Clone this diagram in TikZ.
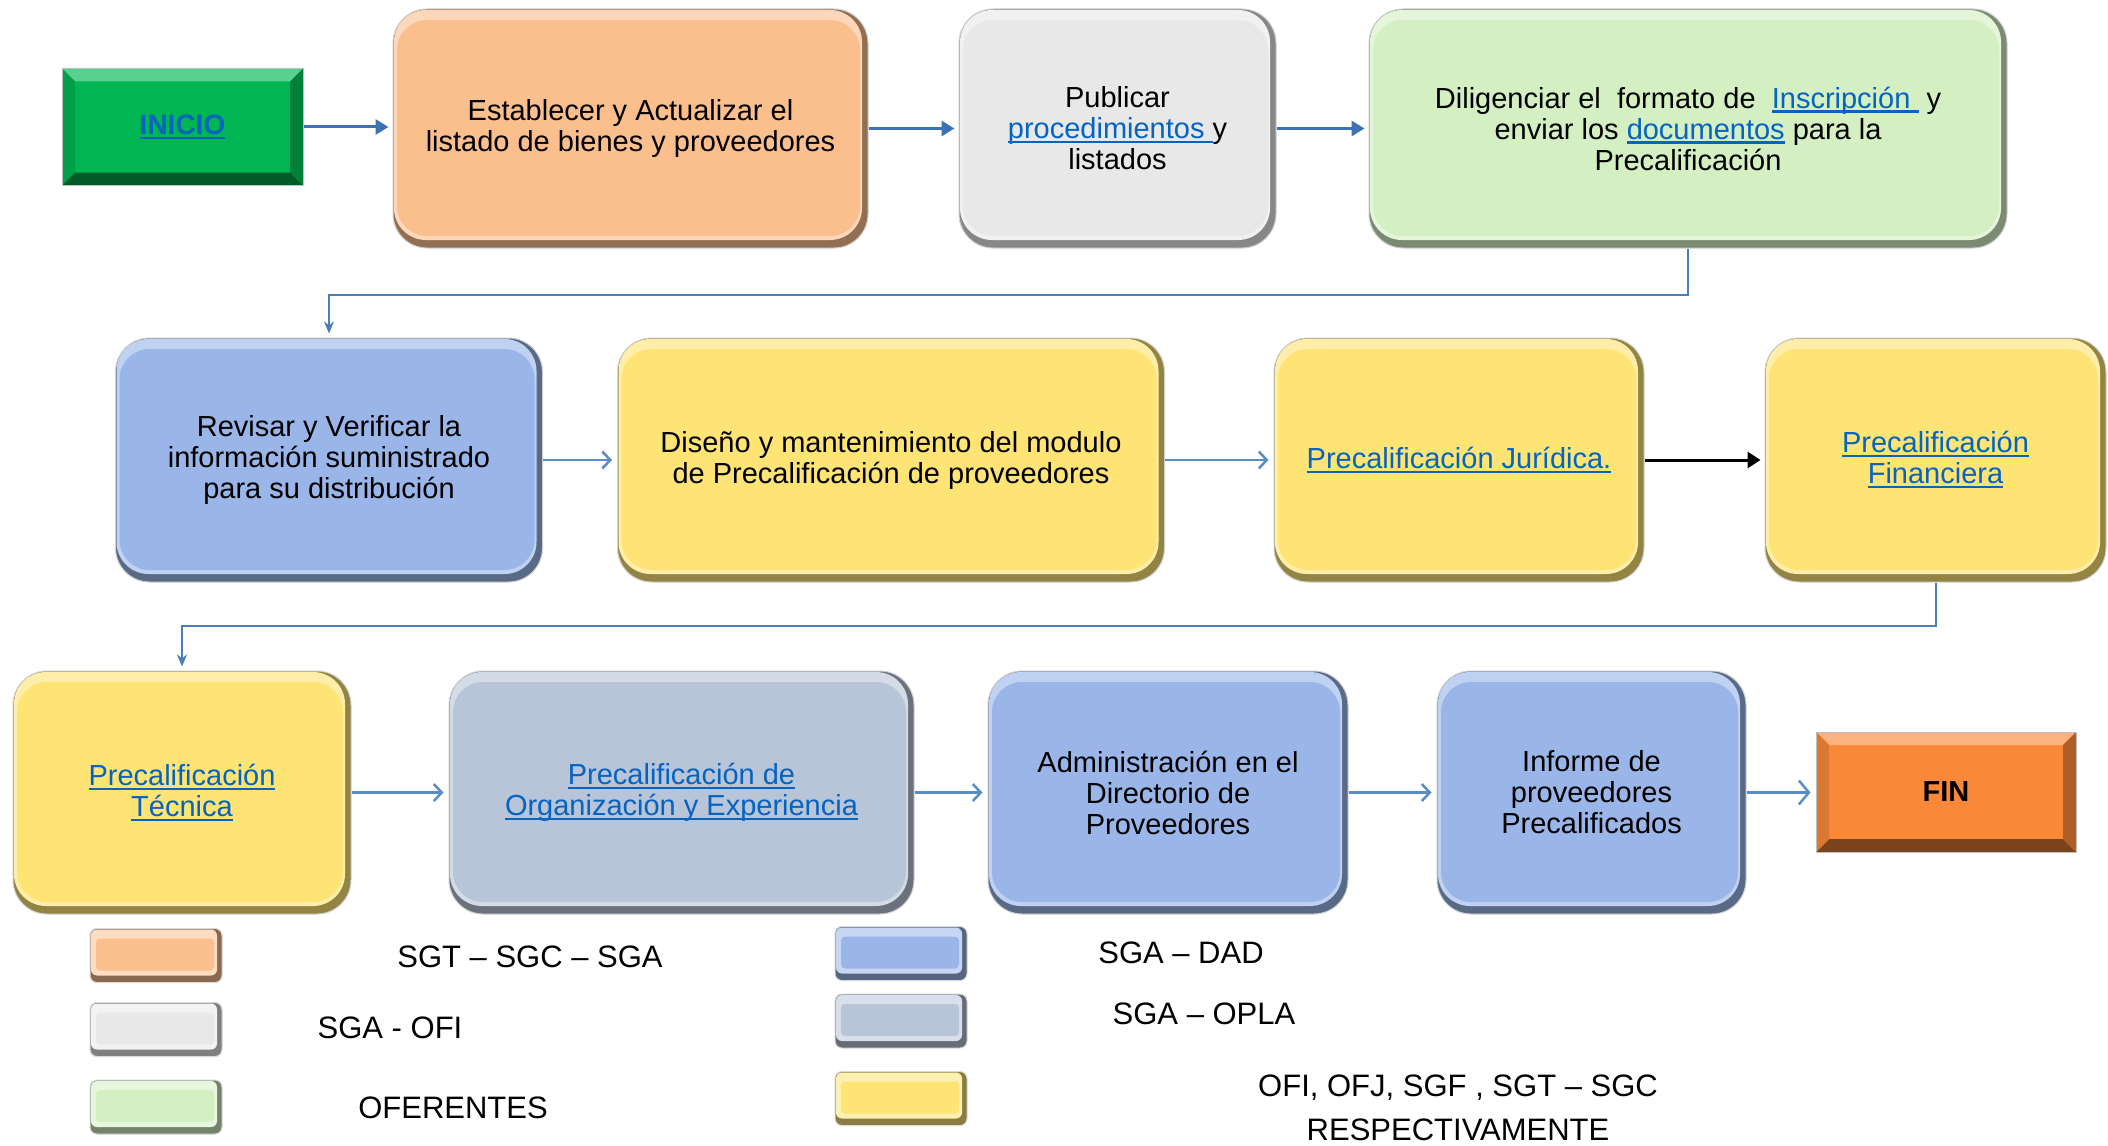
\documentclass[tikz,border=0pt]{standalone}
\usepackage{fontspec}
\setmainfont{Liberation Sans}
\usetikzlibrary{arrows.meta}
\definecolor{cOrange}{HTML}{FBBF8E}
\definecolor{cGray}{HTML}{E8E8E8}
\definecolor{cGreen}{HTML}{D4EFC2}
\definecolor{cBlue}{HTML}{9AB6E9}
\definecolor{cYellow}{HTML}{FDE474}
\definecolor{cSlate}{HTML}{B8C4D8}
\definecolor{cInicio}{HTML}{00B652}
\definecolor{cFin}{HTML}{F98838}
\definecolor{linkc}{HTML}{0563C1}
\definecolor{arrA}{HTML}{3C72B3}
\definecolor{arrB}{HTML}{5A8DC6}
\definecolor{connc}{HTML}{4A7EBB}
\newcommand\lnk[1]{\textcolor{linkc}{\setbox0\hbox{#1}\rlap{\rule[-4.5pt]{\wd0}{2.2pt}}\box0}}
\tikzset{
  rbox/.style={rounded corners=34pt, fill=#1!58!black, draw=black!18, line width=1pt,
    inner sep=0pt, align=center, text=black, font=\fontsize{29}{31}\selectfont,
    path picture={
      \fill[#1!62!white, rounded corners=32pt]
        ([shift={(1pt,-1pt)}]path picture bounding box.north west) rectangle
        ([shift={(-6pt,8pt)}]path picture bounding box.south east);
      \fill[#1, rounded corners=30pt]
        ([shift={(4pt,-11pt)}]path picture bounding box.north west) rectangle
        ([shift={(-8pt,12pt)}]path picture bounding box.south east);
    }},
  lbox/.style={rounded corners=7pt, fill=#1!55!black, draw=black!15, line width=1pt,
    minimum width=132pt, minimum height=54pt, inner sep=0pt,
    path picture={
      \fill[#1!55!white, rounded corners=6pt]
        ([shift={(1pt,-1pt)}]path picture bounding box.north west) rectangle
        ([shift={(-5pt,7pt)}]path picture bounding box.south east);
      \fill[#1, rounded corners=4pt]
        ([shift={(6pt,-10pt)}]path picture bounding box.north west) rectangle
        ([shift={(-8pt,12pt)}]path picture bounding box.south east);
    }},
  sqbevel/.style={fill=#1, draw=black!25, line width=1pt, inner sep=0pt,
    path picture={
      \path (path picture bounding box.north west) coordinate (pNW)
            (path picture bounding box.north east) coordinate (pNE)
            (path picture bounding box.south west) coordinate (pSW)
            (path picture bounding box.south east) coordinate (pSE);
      \fill[#1!65!white] (pNW) -- (pNE) -- ([shift={(-13pt,-13pt)}]pNE) -- ([shift={(13pt,-13pt)}]pNW) -- cycle;
      \fill[#1!50!black] (pSW) -- (pSE) -- ([shift={(-13pt,13pt)}]pSE) -- ([shift={(13pt,13pt)}]pSW) -- cycle;
      \fill[#1!70!black] (pNE) -- (pSE) -- ([shift={(-13pt,13pt)}]pSE) -- ([shift={(-13pt,-13pt)}]pNE) -- cycle;
      \fill[#1!88!black] (pNW) -- (pSW) -- ([shift={(13pt,13pt)}]pSW) -- ([shift={(13pt,-13pt)}]pNW) -- cycle;
    }},
  lgd/.style={font=\fontsize{31}{44}\selectfont, inner sep=0pt, align=center},
  a1/.style={draw=arrA, line width=3pt, shorten >=4pt, -{Triangle[length=13pt,width=15pt]}},
  a2/.style={draw=arrB, line width=2.5pt, shorten >=5pt, -{Straight Barb[length=8pt,width=17pt,line width=2.5pt]}},
  a2b/.style={draw=arrB, line width=2.5pt, shorten >=5pt, -{Straight Barb[length=10pt,width=24pt,line width=2.5pt]}},
  a3/.style={draw=black, line width=3pt, shorten >=4pt, -{Triangle[length=13pt,width=16pt]}},
  conn/.style={draw=connc, line width=2pt, shorten >=4pt, -{Stealth[length=12pt,width=10pt]}},
}
\begin{document}
\begin{tikzpicture}[x=1pt,y=-1pt]
\useasboundingbox (0,0) rectangle (2108,1145);
\fill[white] (0,0) rectangle (2108,1145);

% row 1
\node[sqbevel=cInicio, minimum width=241pt, minimum height=117pt, font=\fontsize{28}{32}\selectfont\bfseries] (ini) at (182.5,127) {\lnk{INICIO}};
\node[rbox=cOrange, minimum width=475pt, minimum height=239pt] (b1) at (630.5,128.5)
  {Establecer y Actualizar el\\listado de bienes y proveedores};
\node[rbox=cGray, minimum width=317pt, minimum height=239pt] (b2) at (1117.5,128.5)
  {Publicar\\\lnk{procedimientos\ }y\\listados};
\node[rbox=cGreen, minimum width=638pt, minimum height=239pt] (b3) at (1688,128.5)
  {Diligenciar el\ \ formato de\ \ \lnk{Inscripción\ }\ y\\enviar los \lnk{documentos} para la\\Precalificación};

% row 2
\node[rbox=cBlue, minimum width=427pt, minimum height=244pt] (b4) at (329,460)
  {Revisar y Verificar la\\información suministrado\\para su distribución};
\node[rbox=cYellow, minimum width=547pt, minimum height=244pt] (b5) at (891,460)
  {Diseño y mantenimiento del modulo\\de Precalificación de proveedores};
\node[rbox=cYellow, minimum width=370pt, minimum height=244pt] (b6) at (1459,460)
  {\lnk{Precalificación Jurídica.}};
\node[rbox=cYellow, minimum width=341pt, minimum height=244pt] (b7) at (1935.5,460)
  {\lnk{Precalificación}\\\lnk{Financiera}};

% row 3
\node[rbox=cYellow, minimum width=338pt, minimum height=243pt] (b8) at (182,792.5)
  {\lnk{Precalificación}\\\lnk{Técnica}};
\node[rbox=cSlate, minimum width=465pt, minimum height=243pt] (b9) at (681.5,792.5)
  {\lnk{Precalificación de}\\\lnk{Organización y Experiencia}};
\node[rbox=cBlue, minimum width=360pt, minimum height=243pt] (b10) at (1168,792.5)
  {Administración en el\\Directorio de\\Proveedores};
\node[rbox=cBlue, minimum width=309pt, minimum height=243pt] (b11) at (1591.5,792.5)
  {Informe de\\proveedores\\Precalificados};
\node[sqbevel=cFin, minimum width=260pt, minimum height=120pt, font=\fontsize{29}{32}\selectfont\bfseries] (fin) at (1946,792) {FIN};

% connectors
\draw[a1] (ini.east) -- (ini.east -| b1.west);
\draw[a1] (b1.east) -- (b1.east -| b2.west);
\draw[a1] (b2.east) -- (b2.east -| b3.west);
\draw[conn] (b3.south) -- ++(0,46) -| (b4.north);
\draw[a2] (b4.east) -- (b5.west);
\draw[a2] (b5.east) -- (b6.west);
\draw[a3] (b6.east) -- (b7.west);
\draw[conn] (b7.south) -- ++(0,43) -| (b8.north);
\draw[a2] (b8.east) -- (b9.west);
\draw[a2] (b9.east) -- (b10.west);
\draw[a2] (b10.east) -- (b11.west);
\draw[a2b] (b11.east) -- (b11.east -| fin.west);

% legend
\node[lbox=cOrange] (l1) at (156,955.5) {};
\node[lbox=cGray] (l2) at (156,1029.5) {};
\node[lbox=cGreen] (l3) at (156,1107) {};
\node[lbox=cBlue] (r1) at (901,953.5) {};
\node[lbox=cSlate] (r2) at (901,1021) {};
\node[lbox=cYellow] (r3) at (901,1098.5) {};
\node[lgd] (t1) at (530,957) {SGT – SGC – SGA};
\node[lgd] (t2) at (390,1028) {SGA - OFI};
\node[lgd] (t3) at (453,1108) {OFERENTES};
\node[lgd] (t4) at (1181,953) {SGA – DAD};
\node[lgd] (t5) at (1204,1014) {SGA – OPLA};
\node[lgd] (t6) at (1458,1108) {OFI, OFJ, SGF , SGT – SGC\\RESPECTIVAMENTE};
\end{tikzpicture}
\end{document}
